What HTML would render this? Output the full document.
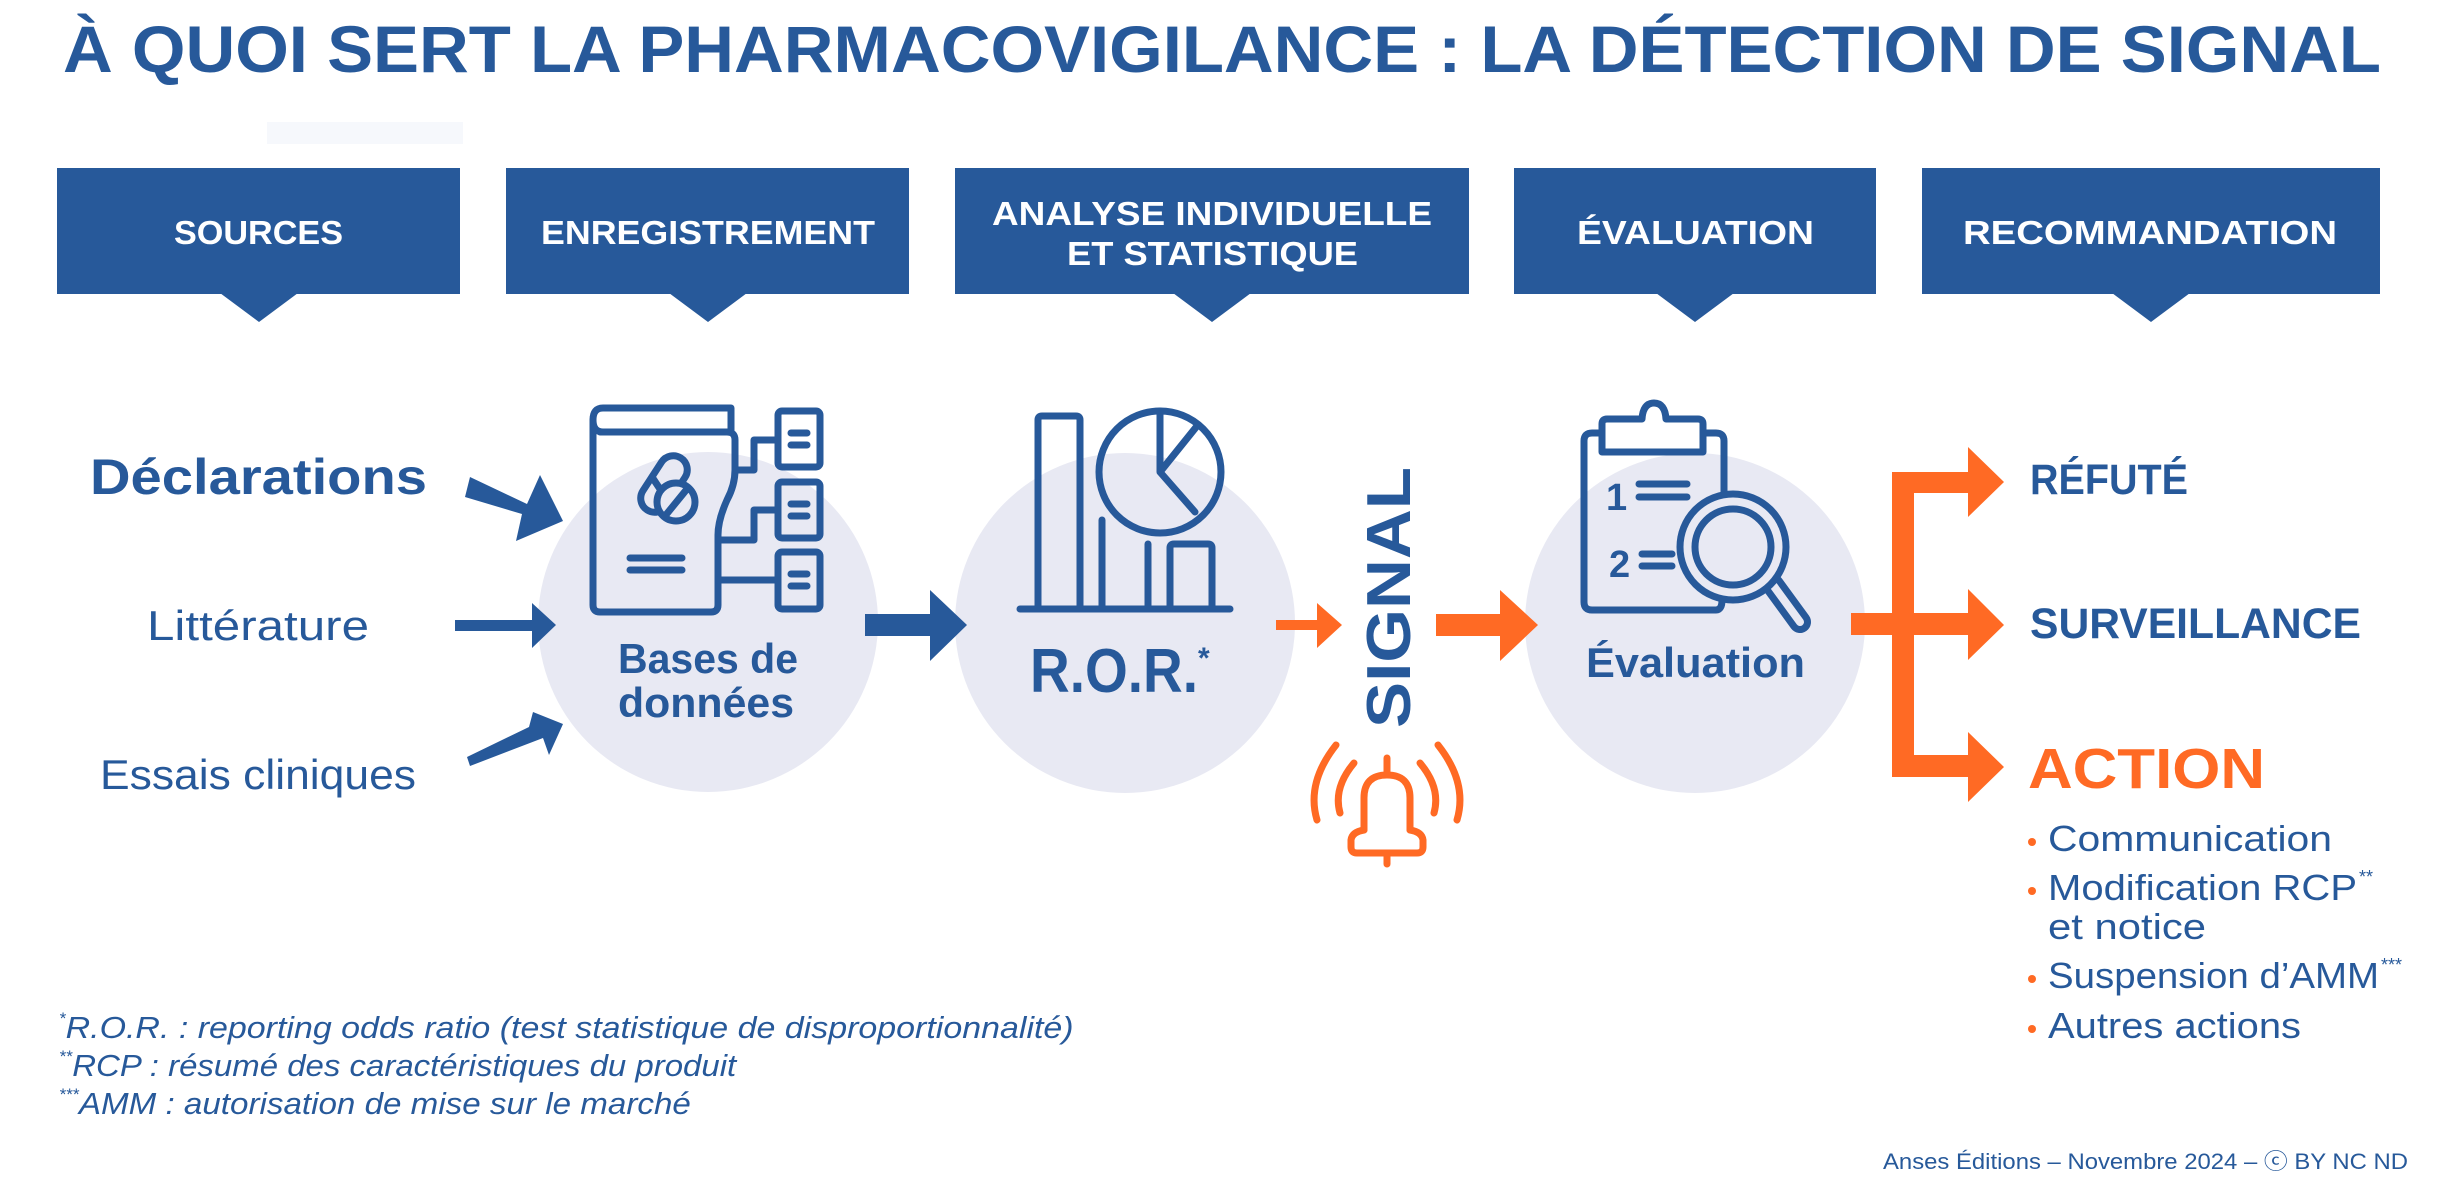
<!DOCTYPE html>
<html><head><meta charset="utf-8"><style>
html,body{margin:0;padding:0;background:#fff;}
svg{display:block;}
text{font-family:"Liberation Sans",sans-serif;}
</style></head><body>
<svg width="2460" height="1194" viewBox="0 0 2460 1194" xmlns="http://www.w3.org/2000/svg">
<rect width="2460" height="1194" fill="#fff"/>
<!-- title -->
<text x="63" y="72" font-size="66" font-weight="bold" fill="#27599a" textLength="2318" lengthAdjust="spacingAndGlyphs">À QUOI SERT LA PHARMACOVIGILANCE : LA DÉTECTION DE SIGNAL</text>
<rect x="267" y="122" width="196" height="22" fill="#f6f8fc"/>

<!-- header boxes -->
<g fill="#27599a">
<rect x="57" y="168" width="403" height="126"/><polygon points="220,293 298,293 259,322"/>
<rect x="506" y="168" width="403" height="126"/><polygon points="669,293 747,293 708,322"/>
<rect x="955" y="168" width="514" height="126"/><polygon points="1173,293 1251,293 1212,322"/>
<rect x="1514" y="168" width="362" height="126"/><polygon points="1656,293 1734,293 1695,322"/>
<rect x="1922" y="168" width="458" height="126"/><polygon points="2112,293 2190,293 2151,322"/>
</g>
<g fill="#fff" font-size="33" font-weight="bold">
<text x="174" y="244" textLength="169" lengthAdjust="spacingAndGlyphs">SOURCES</text>
<text x="541" y="244" textLength="334" lengthAdjust="spacingAndGlyphs">ENREGISTREMENT</text>
<text x="992" y="225" textLength="440" lengthAdjust="spacingAndGlyphs">ANALYSE INDIVIDUELLE</text>
<text x="1067" y="265" textLength="291" lengthAdjust="spacingAndGlyphs">ET STATISTIQUE</text>
<text x="1577" y="244" textLength="237" lengthAdjust="spacingAndGlyphs">ÉVALUATION</text>
<text x="1963" y="244" textLength="374" lengthAdjust="spacingAndGlyphs">RECOMMANDATION</text>
</g>

<!-- circles -->
<g fill="#e8e9f3">
<circle cx="708" cy="622" r="170"/>
<circle cx="1125" cy="623" r="170"/>
<circle cx="1695" cy="623" r="170"/>
</g>

<!-- sources labels -->
<text x="90" y="494" font-size="50" font-weight="bold" fill="#27599a" textLength="337" lengthAdjust="spacingAndGlyphs">Déclarations</text>
<text x="147" y="640" font-size="42" fill="#27599a" textLength="222" lengthAdjust="spacingAndGlyphs">Littérature</text>
<text x="100" y="789" font-size="42" fill="#27599a" textLength="316" lengthAdjust="spacingAndGlyphs">Essais cliniques</text>

<!-- source arrows -->
<g fill="#27599a">
<polygon points="470,477 527,504 540,475 563,521 516,541 522,514 465,497"/>
<polygon points="455,620 532,620 532,603 556,625 532,648 532,631 455,631"/>
<polygon points="467,757 529,727 533,712 563,724 549,755 543,738 470,766"/>
<polygon points="865,614 930,614 930,590 967,625 930,661 930,636 865,636"/>
</g>

<!-- bases icon -->
<g fill="none" stroke="#27599a" stroke-width="7" stroke-linecap="round" stroke-linejoin="round">
<path d="M600,432 H731 V408 H603 Q593,408 593,420 Q593,432 603,432"/>
<path d="M593,420 V605 Q593,612 600,612 H711 Q718,612 718,605 V535 Q718,520 727,500 Q735,485 735,470 V440 Q735,432 727,432"/>
<rect x="-14" y="-31" width="28" height="62" rx="14" transform="translate(664,484) rotate(33)"/>
<line x1="652" y1="477" x2="664" y2="495"/>
<circle cx="676" cy="502" r="19" fill="#e8e9f3"/>
<line x1="665" y1="516" x2="687" y2="489"/>
<line x1="630" y1="558" x2="682" y2="558"/>
<line x1="630" y1="570" x2="682" y2="570"/>
<path d="M735,470 H754 V440 H778"/>
<path d="M718,540 H754 V510 H778"/>
<path d="M718,580 H778"/>
<rect x="778" y="411" width="42" height="56" rx="4"/>
<rect x="778" y="482" width="42" height="56" rx="4"/>
<rect x="778" y="552" width="42" height="57" rx="4"/>
<line x1="791" y1="433" x2="807" y2="433"/><line x1="791" y1="445" x2="807" y2="445"/>
<line x1="791" y1="504" x2="807" y2="504"/><line x1="791" y1="516" x2="807" y2="516"/>
<line x1="791" y1="574" x2="807" y2="574"/><line x1="791" y1="586" x2="807" y2="586"/>
</g>
<text x="618" y="673" font-size="42" font-weight="bold" fill="#27599a" textLength="180" lengthAdjust="spacingAndGlyphs">Bases de</text>
<text x="618" y="717" font-size="42" font-weight="bold" fill="#27599a" textLength="176" lengthAdjust="spacingAndGlyphs">données</text>

<!-- ROR icon -->
<g fill="none" stroke="#27599a" stroke-width="7" stroke-linecap="round" stroke-linejoin="round">
<path d="M1038,609 V420 Q1038,416 1042,416 H1076 Q1080,416 1080,420 V609"/>
<circle cx="1160" cy="472" r="61"/>
<path d="M1160,411 V472 L1197,426 M1160,472 L1195,512"/>
<line x1="1102" y1="520" x2="1102" y2="609"/>
<line x1="1148" y1="544" x2="1148" y2="609"/>
<path d="M1170,609 V548 Q1170,544 1174,544 H1208 Q1212,544 1212,548 V609"/>
<line x1="1020" y1="609" x2="1230" y2="609"/>
</g>
<text x="1030" y="692" font-size="62" font-weight="bold" fill="#27599a" textLength="168" lengthAdjust="spacingAndGlyphs">R.O.R.</text>
<text x="1198" y="668" font-size="30" font-weight="bold" fill="#27599a">*</text>

<!-- signal -->
<polygon points="1276,620 1317,620 1317,603 1342,625 1317,648 1317,630 1276,630" fill="#ff6a24"/>
<text transform="translate(1410,728) rotate(-90)" font-size="62" font-weight="bold" fill="#27599a" textLength="261" lengthAdjust="spacingAndGlyphs">SIGNAL</text>
<polygon points="1436,614 1500,614 1500,590 1538,625 1500,661 1500,636 1436,636" fill="#ff6a24"/>
<g fill="none" stroke="#ff6a24" stroke-width="7" stroke-linecap="round" stroke-linejoin="round">
<path d="M1336,745 Q1306,783 1317,820"/>
<path d="M1354,763 Q1333,788 1340,813"/>
<path d="M1438,745 Q1468,783 1457,820"/>
<path d="M1420,763 Q1441,788 1434,813"/>
<line x1="1387" y1="758" x2="1387" y2="773"/>
<path d="M1364,830 V798 Q1364,775 1387,775 Q1410,775 1410,798 V830"/>
<path d="M1364,830 Q1352,832 1351,840 V847 Q1351,853 1357,853 H1417 Q1423,853 1423,847 V840 Q1422,832 1410,830"/>
<line x1="1387" y1="853" x2="1387" y2="864"/>
</g>

<!-- evaluation icon -->
<g fill="none" stroke="#27599a" stroke-width="7" stroke-linecap="round" stroke-linejoin="round">
<path d="M1602,433 H1592 Q1584,433 1584,441 V602 Q1584,610 1592,610 H1716 Q1722,610 1722,600"/>
<path d="M1703,433 H1716 Q1724,433 1724,441 V494"/>
<path d="M1602,452 V424 Q1602,419 1607,419 H1642 Q1643,403 1654,403 Q1665,403 1666,419 H1698 Q1703,419 1703,424 V452 Z" fill="#fff"/>
<line x1="1639" y1="484" x2="1687" y2="484"/><line x1="1639" y1="497" x2="1687" y2="497"/>
<line x1="1642" y1="554" x2="1672" y2="554"/><line x1="1642" y1="566" x2="1672" y2="566"/>
<line x1="1773" y1="585" x2="1800" y2="622" stroke-width="22"/>
<line x1="1773" y1="585" x2="1800" y2="622" stroke="#e8e9f3" stroke-width="8"/>
<circle cx="1733" cy="547" r="53" fill="#e8e9f3"/>
<circle cx="1733" cy="547" r="38"/>
</g>
<text x="1606" y="510" font-size="38" font-weight="bold" fill="#27599a">1</text>
<text x="1609" y="577" font-size="38" font-weight="bold" fill="#27599a">2</text>
<text x="1586" y="677" font-size="42" font-weight="bold" fill="#27599a" textLength="219" lengthAdjust="spacingAndGlyphs">Évaluation</text>

<!-- orange branches -->
<g fill="#ff6a24">
<rect x="1851" y="613" width="63" height="22"/>
<rect x="1892" y="472" width="22" height="305"/>
<polygon points="1914,472 1968,472 1968,447 2004,482 1968,517 1968,493 1914,493"/>
<polygon points="1914,613 1968,613 1968,589 2004,625 1968,660 1968,635 1914,635"/>
<polygon points="1892,755 1968,755 1968,732 2004,767 1968,802 1968,777 1892,777"/>
</g>
<text x="2030" y="494" font-size="43" font-weight="bold" fill="#27599a" textLength="158" lengthAdjust="spacingAndGlyphs">RÉFUTÉ</text>
<text x="2030" y="638" font-size="43" font-weight="bold" fill="#27599a" textLength="331" lengthAdjust="spacingAndGlyphs">SURVEILLANCE</text>
<text x="2028" y="788" font-size="57" font-weight="bold" fill="#ff6a24" textLength="237" lengthAdjust="spacingAndGlyphs">ACTION</text>
<g fill="#ff6a24">
<circle cx="2032" cy="842" r="4"/><circle cx="2032" cy="891" r="4"/><circle cx="2032" cy="979" r="4"/><circle cx="2032" cy="1029" r="4"/>
</g>
<g font-size="36" fill="#27599a">
<text x="2048" y="851" textLength="284" lengthAdjust="spacingAndGlyphs">Communication</text>
<text x="2048" y="900" textLength="309" lengthAdjust="spacingAndGlyphs">Modification RCP</text>
<text x="2359" y="883" font-size="18">**</text>
<text x="2048" y="939" textLength="158" lengthAdjust="spacingAndGlyphs">et notice</text>
<text x="2048" y="988" textLength="331" lengthAdjust="spacingAndGlyphs">Suspension d’AMM</text>
<text x="2381" y="971" font-size="18">***</text>
<text x="2048" y="1038" textLength="253" lengthAdjust="spacingAndGlyphs">Autres actions</text>
</g>

<!-- footnotes -->
<g font-size="31" font-style="italic" fill="#27599a">
<text x="59" y="1038"><tspan font-size="17" dy="-14">*</tspan><tspan dy="14" textLength="1008" lengthAdjust="spacingAndGlyphs">R.O.R. : reporting odds ratio (test statistique de disproportionnalité)</tspan></text>
<text x="59" y="1076"><tspan font-size="17" dy="-14">**</tspan><tspan dy="14" textLength="664" lengthAdjust="spacingAndGlyphs">RCP : résumé des caractéristiques du produit</tspan></text>
<text x="59" y="1114"><tspan font-size="17" dy="-14">***</tspan><tspan dy="14" textLength="612" lengthAdjust="spacingAndGlyphs">AMM : autorisation de mise sur le marché</tspan></text>
</g>
<text x="1883" y="1169" font-size="22" fill="#27599a" textLength="525" lengthAdjust="spacingAndGlyphs">Anses Éditions – Novembre 2024 – ⓒ BY NC ND</text>
</svg>
</body></html>
